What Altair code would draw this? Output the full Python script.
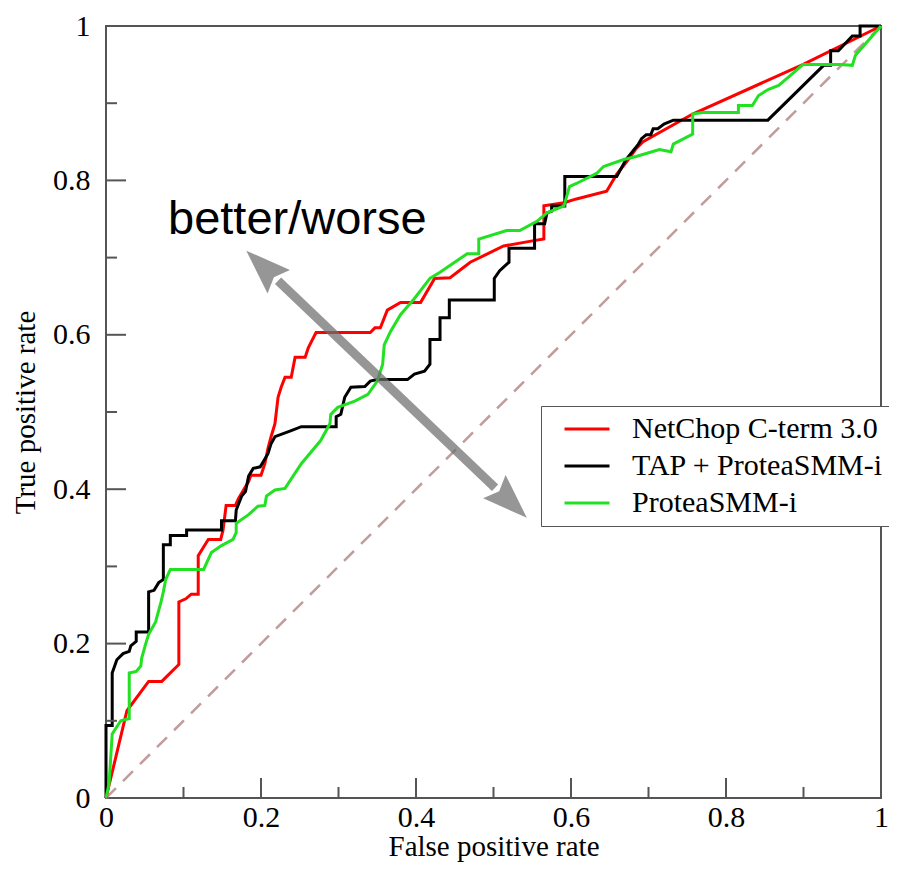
import altair as alt
import pandas as pd

series_names = ["NetChop C-term 3.0", "TAP + ProteaSMM-i", "ProteaSMM-i"]
series_colors = ["#ff0000", "#000000", "#22e022"]

netchop_fpr = [0, 0.027, 0.055, 0.072, 0.094, 0.094, 0.103, 0.110, 0.119, 0.119, 0.132, 0.148, 0.151, 0.155,
               0.167, 0.171, 0.184, 0.187, 0.200, 0.205, 0.209, 0.213, 0.218, 0.222, 0.226, 0.231, 0.239, 0.244,
               0.257, 0.261, 0.271, 0.341, 0.347, 0.354, 0.363, 0.380, 0.406, 0.424, 0.444, 0.470, 0.513, 0.552,
               0.565, 0.565, 0.591, 0.607, 0.646, 0.659, 0.674, 0.684, 0.693, 0.757, 0.899, 1.0]
netchop_tpr = [0, 0.113, 0.151, 0.151, 0.173, 0.254, 0.258, 0.264, 0.264, 0.314, 0.335, 0.335, 0.347, 0.379,
               0.379, 0.388, 0.410, 0.418, 0.418, 0.433, 0.453, 0.468, 0.485, 0.519, 0.532, 0.545, 0.545, 0.571,
               0.571, 0.583, 0.603, 0.603, 0.609, 0.609, 0.632, 0.642, 0.642, 0.673, 0.674, 0.694, 0.715, 0.722,
               0.724, 0.767, 0.771, 0.776, 0.786, 0.808, 0.827, 0.841, 0.850, 0.886, 0.950, 1.0]

tap_fpr = [0, 0, 0.008, 0.008, 0.014, 0.022, 0.030, 0.032, 0.039, 0.039,
           0.055, 0.055, 0.062, 0.068, 0.074, 0.074, 0.083, 0.083, 0.104, 0.104,
           0.149, 0.149, 0.167, 0.168, 0.175, 0.180, 0.184, 0.190, 0.199, 0.209,
           0.213, 0.218, 0.239, 0.252, 0.297, 0.297, 0.303, 0.308, 0.316, 0.334,
           0.341, 0.350, 0.389, 0.398, 0.411, 0.418, 0.418, 0.431, 0.431, 0.443,
           0.443, 0.501, 0.501, 0.508, 0.520, 0.520, 0.553, 0.553, 0.566, 0.569,
           0.575, 0.575, 0.592, 0.592, 0.659, 0.671, 0.687, 0.691, 0.697, 0.703,
           0.706, 0.712, 0.720, 0.732, 0.854, 0.926, 0.935, 0.935, 0.945, 0.963,
           0.973, 0.973, 1.0]
tap_tpr = [0, 0.094, 0.094, 0.162, 0.179, 0.187, 0.190, 0.197, 0.203, 0.215,
           0.215, 0.267, 0.269, 0.279, 0.283, 0.328, 0.328, 0.340, 0.340, 0.347,
           0.347, 0.359, 0.359, 0.373, 0.391, 0.397, 0.417, 0.427, 0.429, 0.446,
           0.459, 0.468, 0.476, 0.481, 0.481, 0.494, 0.497, 0.519, 0.532, 0.533,
           0.540, 0.542, 0.542, 0.549, 0.553, 0.562, 0.594, 0.594, 0.622, 0.622,
           0.645, 0.645, 0.673, 0.683, 0.694, 0.712, 0.712, 0.744, 0.744, 0.758,
           0.760, 0.767, 0.767, 0.805, 0.805, 0.827, 0.847, 0.854, 0.859, 0.859,
           0.867, 0.867, 0.873, 0.878, 0.878, 0.949, 0.949, 0.968, 0.968, 0.987,
           0.987, 1.0, 1.0]

protea_fpr = [0, 0.004, 0.008, 0.019, 0.030, 0.030, 0.039, 0.045, 0.046, 0.051,
              0.055, 0.064, 0.071, 0.074, 0.077, 0.083, 0.126, 0.136, 0.149, 0.164,
              0.168, 0.168, 0.184, 0.196, 0.205, 0.207, 0.218, 0.231, 0.252, 0.277,
              0.289, 0.290, 0.299, 0.321, 0.338, 0.350, 0.357, 0.359, 0.367, 0.380,
              0.398, 0.418, 0.431, 0.466, 0.481, 0.481, 0.517, 0.534, 0.556, 0.569,
              0.591, 0.598, 0.607, 0.633, 0.642, 0.668, 0.684, 0.714, 0.729, 0.732,
              0.757, 0.757, 0.770, 0.816, 0.816, 0.834, 0.842, 0.855, 0.868, 0.890,
              0.899, 0.947, 0.963, 0.967, 1.0]
protea_tpr = [0, 0.019, 0.083, 0.100, 0.103, 0.162, 0.164, 0.171, 0.181, 0.199,
              0.212, 0.228, 0.254, 0.267, 0.283, 0.296, 0.296, 0.318, 0.327, 0.335,
              0.344, 0.356, 0.367, 0.378, 0.379, 0.391, 0.399, 0.401, 0.433, 0.463,
              0.485, 0.497, 0.506, 0.514, 0.523, 0.540, 0.562, 0.587, 0.604, 0.626,
              0.647, 0.673, 0.681, 0.705, 0.705, 0.724, 0.735, 0.735, 0.747, 0.758,
              0.767, 0.792, 0.796, 0.809, 0.818, 0.827, 0.831, 0.840, 0.837, 0.847,
              0.860, 0.886, 0.888, 0.888, 0.897, 0.897, 0.910, 0.918, 0.923, 0.942,
              0.950, 0.950, 0.949, 0.962, 1.0]

diag_fpr = [0, 1]
diag_tpr = [0, 1]

axis_ticks = [0, 0.2, 0.4, 0.6, 0.8, 1]
major_ticks = [0.2, 0.4, 0.6, 0.8]
minor_ticks = [0.1, 0.3, 0.5, 0.7, 0.9]

# annotation arrow (tips) and shaft
arrow_tip_fpr = [0.181, 0.543]
arrow_tip_tpr = [0.709, 0.363]
shaft_fpr = [0.222, 0.502]
shaft_tpr = [0.670, 0.402]
note_text = "better/worse"
note_fpr = 0.080
note_tpr = 0.730

rows = []
for name, xs, ys in zip(series_names, [netchop_fpr, tap_fpr, protea_fpr], [netchop_tpr, tap_tpr, protea_tpr]):
    for i, (a, b) in enumerate(zip(xs, ys)):
        rows.append({"series": name, "fpr": a, "tpr": b, "i": i})
df = pd.DataFrame(rows)

W, H = 775, 772
xs_ = alt.Scale(domain=[0, 1], nice=False, zero=False)
ys_ = alt.Scale(domain=[0, 1], nice=False, zero=False)
serif = "Liberation Serif"

x_axis = alt.Axis(values=axis_ticks, format="~g", ticks=False, domain=False, grid=False,
                  labelPadding=4, titlePadding=0, labelFlush=False, labelOverlap=False,
                  title="False positive rate")
y_axis = alt.Axis(values=axis_ticks, format="~g", ticks=False, domain=False, grid=False,
                  labelPadding=16, titlePadding=12, labelFlush=False, labelOverlap=False,
                  title="True positive rate")


def X(field):
    return alt.X(field, scale=xs_, axis=x_axis)


def Y(field):
    return alt.Y(field, scale=ys_, axis=y_axis)


color = alt.Color("series:N", scale=alt.Scale(domain=series_names, range=series_colors),
                  legend=alt.Legend(orient="none", legendX=435, legendY=380, title=None,
                                    symbolType="M-2,0L2,0", symbolSize=506, symbolStrokeWidth=3,
                                    labelFont=serif, labelFontSize=30, labelColor="black",
                                    strokeColor="#555", fillColor="white", padding=8,
                                    rowPadding=7, symbolOffset=23, labelOffset=30, labelLimit=400))

diag = alt.Chart(pd.DataFrame({"fpr": diag_fpr, "tpr": diag_tpr})).mark_line(
    color="#c29c9c", strokeWidth=2.5, strokeDash=[14, 10]).encode(x=X("fpr:Q"), y=Y("tpr:Q"))

line_layers = []
for name in series_names:
    line_layers.append(
        alt.Chart(df).transform_filter(alt.datum.series == name).mark_line(strokeWidth=3).encode(
            x=X("fpr:Q"), y=Y("tpr:Q"), color=color, order="i:Q"))

tick_color = "#555"
maj = pd.DataFrame({"v": major_ticks})
mino = pd.DataFrame({"v": minor_ticks})
tick_layers = [
    alt.Chart(maj).mark_rule(color=tick_color, strokeWidth=2).encode(
        x=X("v:Q"), y=alt.value(H), y2=alt.value(H - 20)),
    alt.Chart(mino).mark_rule(color=tick_color, strokeWidth=2).encode(
        x=X("v:Q"), y=alt.value(H), y2=alt.value(H - 11)),
    alt.Chart(maj).mark_rule(color=tick_color, strokeWidth=2).encode(
        y=Y("v:Q"), x=alt.value(0), x2=alt.value(20)),
    alt.Chart(mino).mark_rule(color=tick_color, strokeWidth=2).encode(
        y=Y("v:Q"), x=alt.value(0), x2=alt.value(11)),
]

arrow_gray = "#6e6e6e"
shaft = alt.Chart(pd.DataFrame({"fpr": shaft_fpr, "tpr": shaft_tpr})).mark_line(
    color=arrow_gray, strokeWidth=9, opacity=0.72, strokeCap="butt").encode(x=X("fpr:Q"), y=Y("tpr:Q"))
head_shape = "M0,0L0.36,1L0,0.85L-0.36,1Z"
head_up = alt.Chart(pd.DataFrame({"fpr": arrow_tip_fpr[:1], "tpr": arrow_tip_tpr[:1]})).mark_point(
    shape=head_shape, size=8100, filled=True, color=arrow_gray, opacity=0.72, strokeWidth=0,
    angle=313.8).encode(x=X("fpr:Q"), y=Y("tpr:Q"))
head_down = alt.Chart(pd.DataFrame({"fpr": arrow_tip_fpr[1:], "tpr": arrow_tip_tpr[1:]})).mark_point(
    shape=head_shape, size=8100, filled=True, color=arrow_gray, opacity=0.72, strokeWidth=0,
    angle=133.8).encode(x=X("fpr:Q"), y=Y("tpr:Q"))

note = alt.Chart(pd.DataFrame({"fpr": [note_fpr], "tpr": [note_tpr], "t": [note_text]})).mark_text(
    font="Liberation Sans", fontSize=47, align="left", baseline="alphabetic", color="black").encode(
    x=X("fpr:Q"), y=Y("tpr:Q"), text="t:N")

chart = alt.layer(diag, *line_layers, *tick_layers, shaft, head_up, head_down, note).properties(
    width=W, height=H,
    autosize=alt.AutoSizeParams(type="none"),
    padding={"left": 98, "top": 18, "right": 8, "bottom": 66},
).configure_view(stroke="#555", strokeWidth=2).configure_axis(
    labelFont=serif, labelFontSize=30, labelColor="black",
    titleFont=serif, titleFontSize=29, titleFontWeight="normal", titleColor="black")

chart.save("out.html", embed_options={"renderer": "svg", "actions": False})
